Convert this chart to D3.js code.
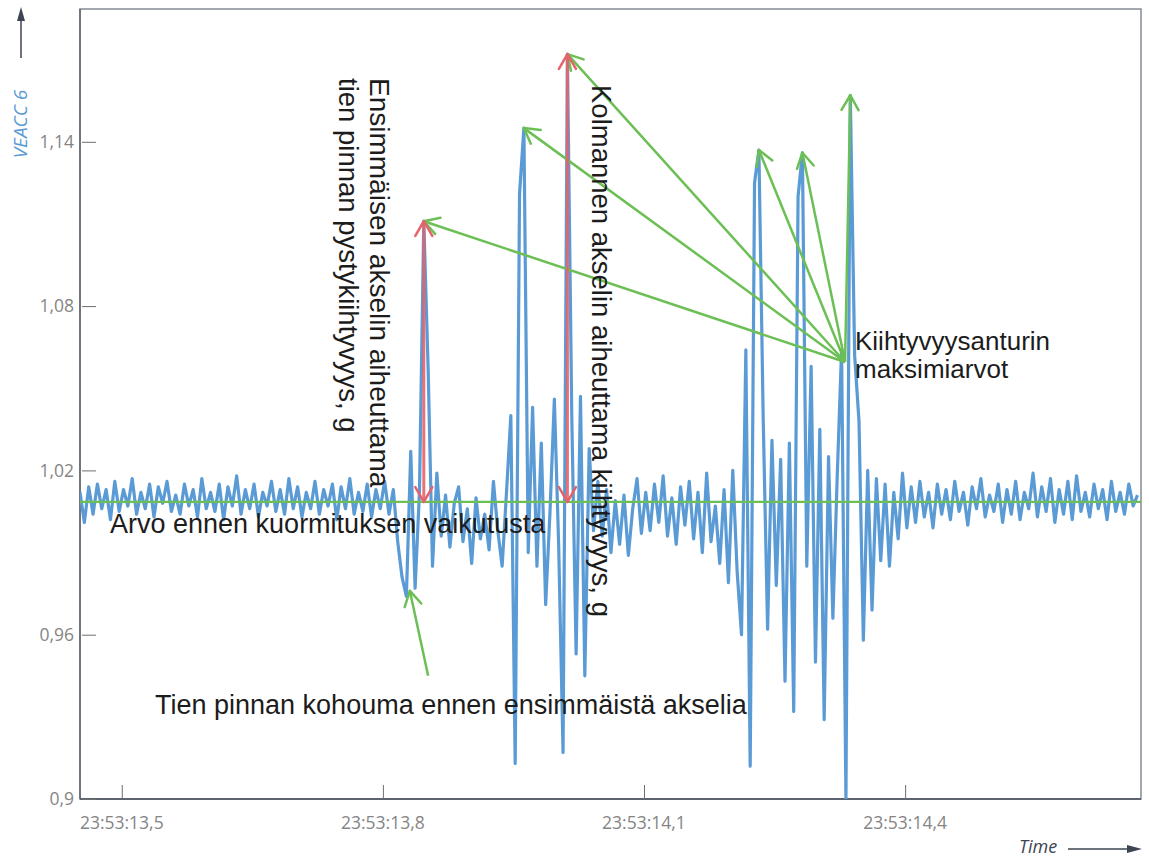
<!DOCTYPE html>
<html>
<head>
<meta charset="utf-8">
<script src="https://cdn.jsdelivr.net/npm/d3@7/dist/d3.min.js"></script>
<style>
	body { margin: 0; background: #fff; }
	.tickLabel { font-family: 'Open Sans', sans-serif; font-size: 17.5px; fill: #858585; }
	.note { font-family: 'Liberation Sans', Arial, sans-serif; font-size: 27px; fill: #1c1c1c; }
	.axisTitle { font-family: 'Open Sans', sans-serif; font-size: 19px; font-style: italic; }
</style>
</head>
<body>
<div id="js_chart"></div>
<script>
'use strict';

// sample clock: first sample time and step, seconds after 23:53:00
const startTime = 13.452;
const sampleStep = 0.005;

// VEACC 6 readings, g
const veacc = [
	1.012, 1.001, 1.014, 1.004, 1.015, 1.006, 1.013, 1.002, 1.016, 1.005,
	1.013, 1.007, 1.017, 1.004, 1.012, 1.006, 1.015, 1.003, 1.014, 1.008,
	1.016, 1.005, 1.011, 1.004, 1.015, 1.007, 1.013, 1.003, 1.017, 1.006,
	1.012, 1.005, 1.015, 1.002, 1.014, 1.007, 1.018, 1.004, 1.013, 1.006,
	1.015, 1.003, 1.012, 1.007, 1.016, 1.005, 1.013, 1.004, 1.017, 1.006,
	1.014, 1.003, 1.012, 1.006, 1.016, 1.004, 1.013, 1.007, 1.015, 1.002,
	1.014, 1.006, 1.017, 1.004, 1.012, 1.005, 1.015, 1.003, 1.013, 1.006,
	1.016, 1.004, 1.013, 0.994, 0.981, 0.974, 1.027, 0.977, 1.012, 1.111,
	1.057, 0.985, 1.019, 0.996, 1.011, 0.992, 1.008, 1.014, 0.994, 1.006,
	0.986, 1.010, 0.995, 1.004, 0.991, 1.016, 0.998, 0.985, 1.012, 1.040,
	0.913, 1.121, 1.145, 0.990, 1.043, 0.985, 1.030, 0.971, 1.005, 1.046,
	0.992, 0.917, 1.172, 1.040, 0.953, 1.047, 0.945, 1.028, 0.998, 1.016,
	0.996, 1.013, 0.990, 1.009, 0.993, 1.011, 0.989, 1.006, 1.017, 0.997,
	1.012, 0.998, 1.015, 1.001, 1.018, 0.996, 1.010, 0.993, 1.014, 1.000,
	1.016, 0.995, 1.012, 0.990, 1.019, 0.994, 1.007, 0.986, 1.013, 0.979,
	1.020, 0.983, 0.960, 1.064, 0.912, 1.125, 1.137, 1.038, 0.962, 1.031,
	0.978, 1.024, 0.943, 1.030, 0.932, 1.120, 1.136, 0.985, 1.058, 0.950,
	1.035, 0.929, 1.025, 0.966, 1.018, 1.064, 0.900, 1.157, 1.062, 1.038,
	0.958, 1.020, 0.969, 1.017, 0.987, 1.015, 0.985, 1.012, 0.995, 1.019,
	0.999, 1.014, 1.001, 1.016, 1.003, 1.012, 0.999, 1.015, 1.004, 1.013,
	1.002, 1.016, 1.005, 1.012, 1.000, 1.014, 1.006, 1.017, 1.003, 1.011,
	1.005, 1.015, 1.001, 1.013, 1.004, 1.016, 1.002, 1.012, 1.006, 1.019,
	1.003, 1.014, 1.005, 1.017, 1.001, 1.013, 1.004, 1.016, 1.002, 1.018,
	1.005, 1.012, 1.003, 1.015, 1.006, 1.013, 1.002, 1.016, 1.005, 1.012,
	1.004, 1.015, 1.007, 1.011
];

const baselineValue = 1.0085;

const xTicks = [13.5, 13.8, 14.1, 14.4];
const xTickLabels = ['23:53:13,5', '23:53:13,8', '23:53:14,1', '23:53:14,4'];
const yTicks = [0.9, 0.96, 1.02, 1.08, 1.14];
const yTickLabels = ['0,9', '0,96', '1,02', '1,08', '1,14'];

// samples that the annotations point at
const redArrowSamples = [79, 112];
const maxSamples = [79, 102, 112, 156, 166, 177];
const maxHub = { time: 14.331, value: 1.0596 };
const bumpArrow = { from: { time: 13.852, value: 0.945 }, to: { time: 13.831, value: 0.976 } };

const width = 1149;
const height = 859;
const plot = { left: 80, right: 1141, top: 9, bottom: 799 };

const colorLine = '#5b9bd5';
const colorGreen = '#6cbf55';
const colorRed = '#e5636a';
const colorAxis = '#5d6370';

let samples = veacc.map(function (v, i) {
	return { time: startTime + i * sampleStep, value: v };
});

let svg = d3.select('#js_chart').append('svg')
	.attr('width', width)
	.attr('height', height);

let xScale = d3.scaleLinear()
	.domain([13.452, 14.671])
	.range([plot.left, plot.right]);
let yScale = d3.scaleLinear()
	.domain([0.9, 1.1885])
	.range([plot.bottom, plot.top]);

function px(p) { return [xScale(p.time), yScale(p.value)]; }

function drawFrame() {
	svg.append('rect')
		.attr('x', plot.left).attr('y', plot.top)
		.attr('width', plot.right - plot.left)
		.attr('height', plot.bottom - plot.top)
		.style('fill', 'none')
		.style('stroke', '#858a96')
		.style('stroke-width', 1.5);
	svg.append('line')
		.attr('x1', plot.left).attr('y1', plot.top)
		.attr('x2', plot.left).attr('y2', plot.bottom)
		.style('stroke', colorAxis).style('stroke-width', 1.5);
	svg.append('line')
		.attr('x1', plot.left).attr('y1', plot.bottom)
		.attr('x2', plot.right).attr('y2', plot.bottom)
		.style('stroke', colorAxis).style('stroke-width', 2);
}

function drawAxes() {
	// y ticks sit inside the frame
	let yAxis = d3.axisRight(yScale)
		.tickValues(yTicks)
		.tickSize(14)
		.tickFormat('');
	let gy = svg.append('g')
		.attr('transform', 'translate(' + (plot.left + 2) + ',0)')
		.call(yAxis);
	gy.select('.domain').remove();
	gy.selectAll('line').style('stroke', '#6e6e6e');

	svg.selectAll('.yLabel')
		.data(yTicks).enter().append('text')
		.attr('class', 'tickLabel')
		.attr('x', 74)
		.attr('y', function (d) { return yScale(d); })
		.attr('dy', '.35em')
		.attr('text-anchor', 'end')
		.text(function (d, i) { return yTickLabels[i]; });

	let xAxis = d3.axisTop(xScale)
		.tickValues(xTicks)
		.tickSize(14)
		.tickFormat('');
	let gx = svg.append('g')
		.attr('transform', 'translate(0,' + plot.bottom + ')')
		.call(xAxis);
	gx.select('.domain').remove();
	gx.selectAll('line').style('stroke', '#6e6e6e');

	svg.selectAll('.xLabel')
		.data(xTicks).enter().append('text')
		.attr('class', 'tickLabel')
		.attr('x', function (d) { return xScale(d); })
		.attr('y', 829)
		.attr('text-anchor', 'middle')
		.text(function (d, i) { return xTickLabels[i]; });

	// axis titles with their arrows
	svg.append('text')
		.attr('class', 'axisTitle')
		.attr('transform', 'translate(27,124) rotate(-90)')
		.attr('text-anchor', 'middle')
		.style('fill', colorLine)
		.text('VEACC 6');
	svg.append('line')
		.attr('x1', 21).attr('y1', 58).attr('x2', 21).attr('y2', 18)
		.style('stroke', '#3d4452').style('stroke-width', 1.5);
	svg.append('polygon')
		.attr('points', '21,7 17,21 25,21')
		.style('fill', '#3d4452');

	svg.append('text')
		.attr('class', 'axisTitle')
		.attr('x', 1019).attr('y', 853)
		.style('font-size', '18px')
		.style('fill', '#3d4452')
		.text('Time');
	svg.append('line')
		.attr('x1', 1068).attr('y1', 849).attr('x2', 1128).attr('y2', 849)
		.style('stroke', '#3d4452').style('stroke-width', 1.5);
	svg.append('polygon')
		.attr('points', '1142,849 1127,845 1127,853')
		.style('fill', '#3d4452');
}

function drawSeries() {
	svg.append('clipPath').attr('id', 'plotClip')
		.append('rect')
		.attr('x', plot.left).attr('y', plot.top)
		.attr('width', plot.right - plot.left)
		.attr('height', plot.bottom - plot.top);
	let line = d3.line()
		.x(function (d) { return xScale(d.time); })
		.y(function (d) { return yScale(d.value); });
	svg.append('path')
		.datum(samples)
		.attr('clip-path', 'url(#plotClip)')
		.attr('d', line)
		.style('fill', 'none')
		.style('stroke', colorLine)
		.style('stroke-width', 3.2)
		.style('stroke-linejoin', 'round');

	svg.append('line')
		.attr('x1', plot.left).attr('x2', plot.right)
		.attr('y1', yScale(baselineValue)).attr('y2', yScale(baselineValue))
		.style('stroke', colorGreen)
		.style('stroke-width', 2.2);
}

// open V-shaped head at tip, pointing away from tail
function chevron(g, tail, tip, color, len) {
	let dx = tip[0] - tail[0];
	let dy = tip[1] - tail[1];
	let d = Math.sqrt(dx * dx + dy * dy);
	let ux = dx / d, uy = dy / d;
	let a = Math.PI / 6;
	[a, -a].forEach(function (t) {
		let rx = ux * Math.cos(t) - uy * Math.sin(t);
		let ry = ux * Math.sin(t) + uy * Math.cos(t);
		g.append('line')
			.attr('x1', tip[0]).attr('y1', tip[1])
			.attr('x2', tip[0] - rx * len).attr('y2', tip[1] - ry * len)
			.style('stroke', color)
			.style('stroke-width', 2.5)
			.style('stroke-linecap', 'round');
	});
}

function arrow(g, tail, tip, color, w) {
	g.append('line')
		.attr('x1', tail[0]).attr('y1', tail[1])
		.attr('x2', tip[0]).attr('y2', tip[1])
		.style('stroke', color)
		.style('stroke-width', w);
	chevron(g, tail, tip, color, 17);
}

function drawAnnotations() {
	let g = svg.append('g').attr('class', 'annotations');
	let hub = px(maxHub);

	maxSamples.forEach(function (i) {
		arrow(g, hub, px(samples[i]), colorGreen, 2.5);
	});
	arrow(g, px(bumpArrow.from), px(bumpArrow.to), colorGreen, 2.5);

	// double arrows from baseline to the axle peaks
	redArrowSamples.forEach(function (i) {
		let top = px(samples[i]);
		let bottom = [top[0], yScale(baselineValue)];
		g.append('line')
			.attr('x1', top[0]).attr('y1', top[1])
			.attr('x2', bottom[0]).attr('y2', bottom[1])
			.style('stroke', colorRed)
			.style('stroke-width', 3)
			.style('opacity', 0.9);
		chevron(g, bottom, top, colorRed, 17);
		chevron(g, top, bottom, colorRed, 17);
	});
}

function drawNotes() {
	svg.append('text').attr('class', 'note')
		.attr('x', 110).attr('y', 533)
		.text('Arvo ennen kuormituksen vaikutusta');
	svg.append('text').attr('class', 'note')
		.attr('x', 155).attr('y', 714)
		.text('Tien pinnan kohouma ennen ensimmäistä akselia');
	svg.append('text').attr('class', 'note')
		.attr('x', 855).attr('y', 350)
		.style('font-size', '26px')
		.text('Kiihtyvyysanturin');
	svg.append('text').attr('class', 'note')
		.attr('x', 855).attr('y', 378)
		.style('font-size', '26px')
		.text('maksimiarvot');

	// vertical notes read top to bottom
	svg.append('text').attr('class', 'note')
		.attr('transform', 'translate(370,78) rotate(90)')
		.style('font-size', '28px')
		.text('Ensimmäisen akselin aiheuttama');
	svg.append('text').attr('class', 'note')
		.attr('transform', 'translate(339,78) rotate(90)')
		.style('font-size', '27.5px')
		.text('tien pinnan pystykiihtyvyys, g');
	svg.append('text').attr('class', 'note')
		.attr('transform', 'translate(592,85) rotate(90)')
		.style('font-size', '27.5px')
		.text('Kolmannen akselin aiheuttama kiihtyvyys, g');
}

drawFrame();
drawSeries();
drawAxes();
drawAnnotations();
drawNotes();
</script>
</body>
</html>
